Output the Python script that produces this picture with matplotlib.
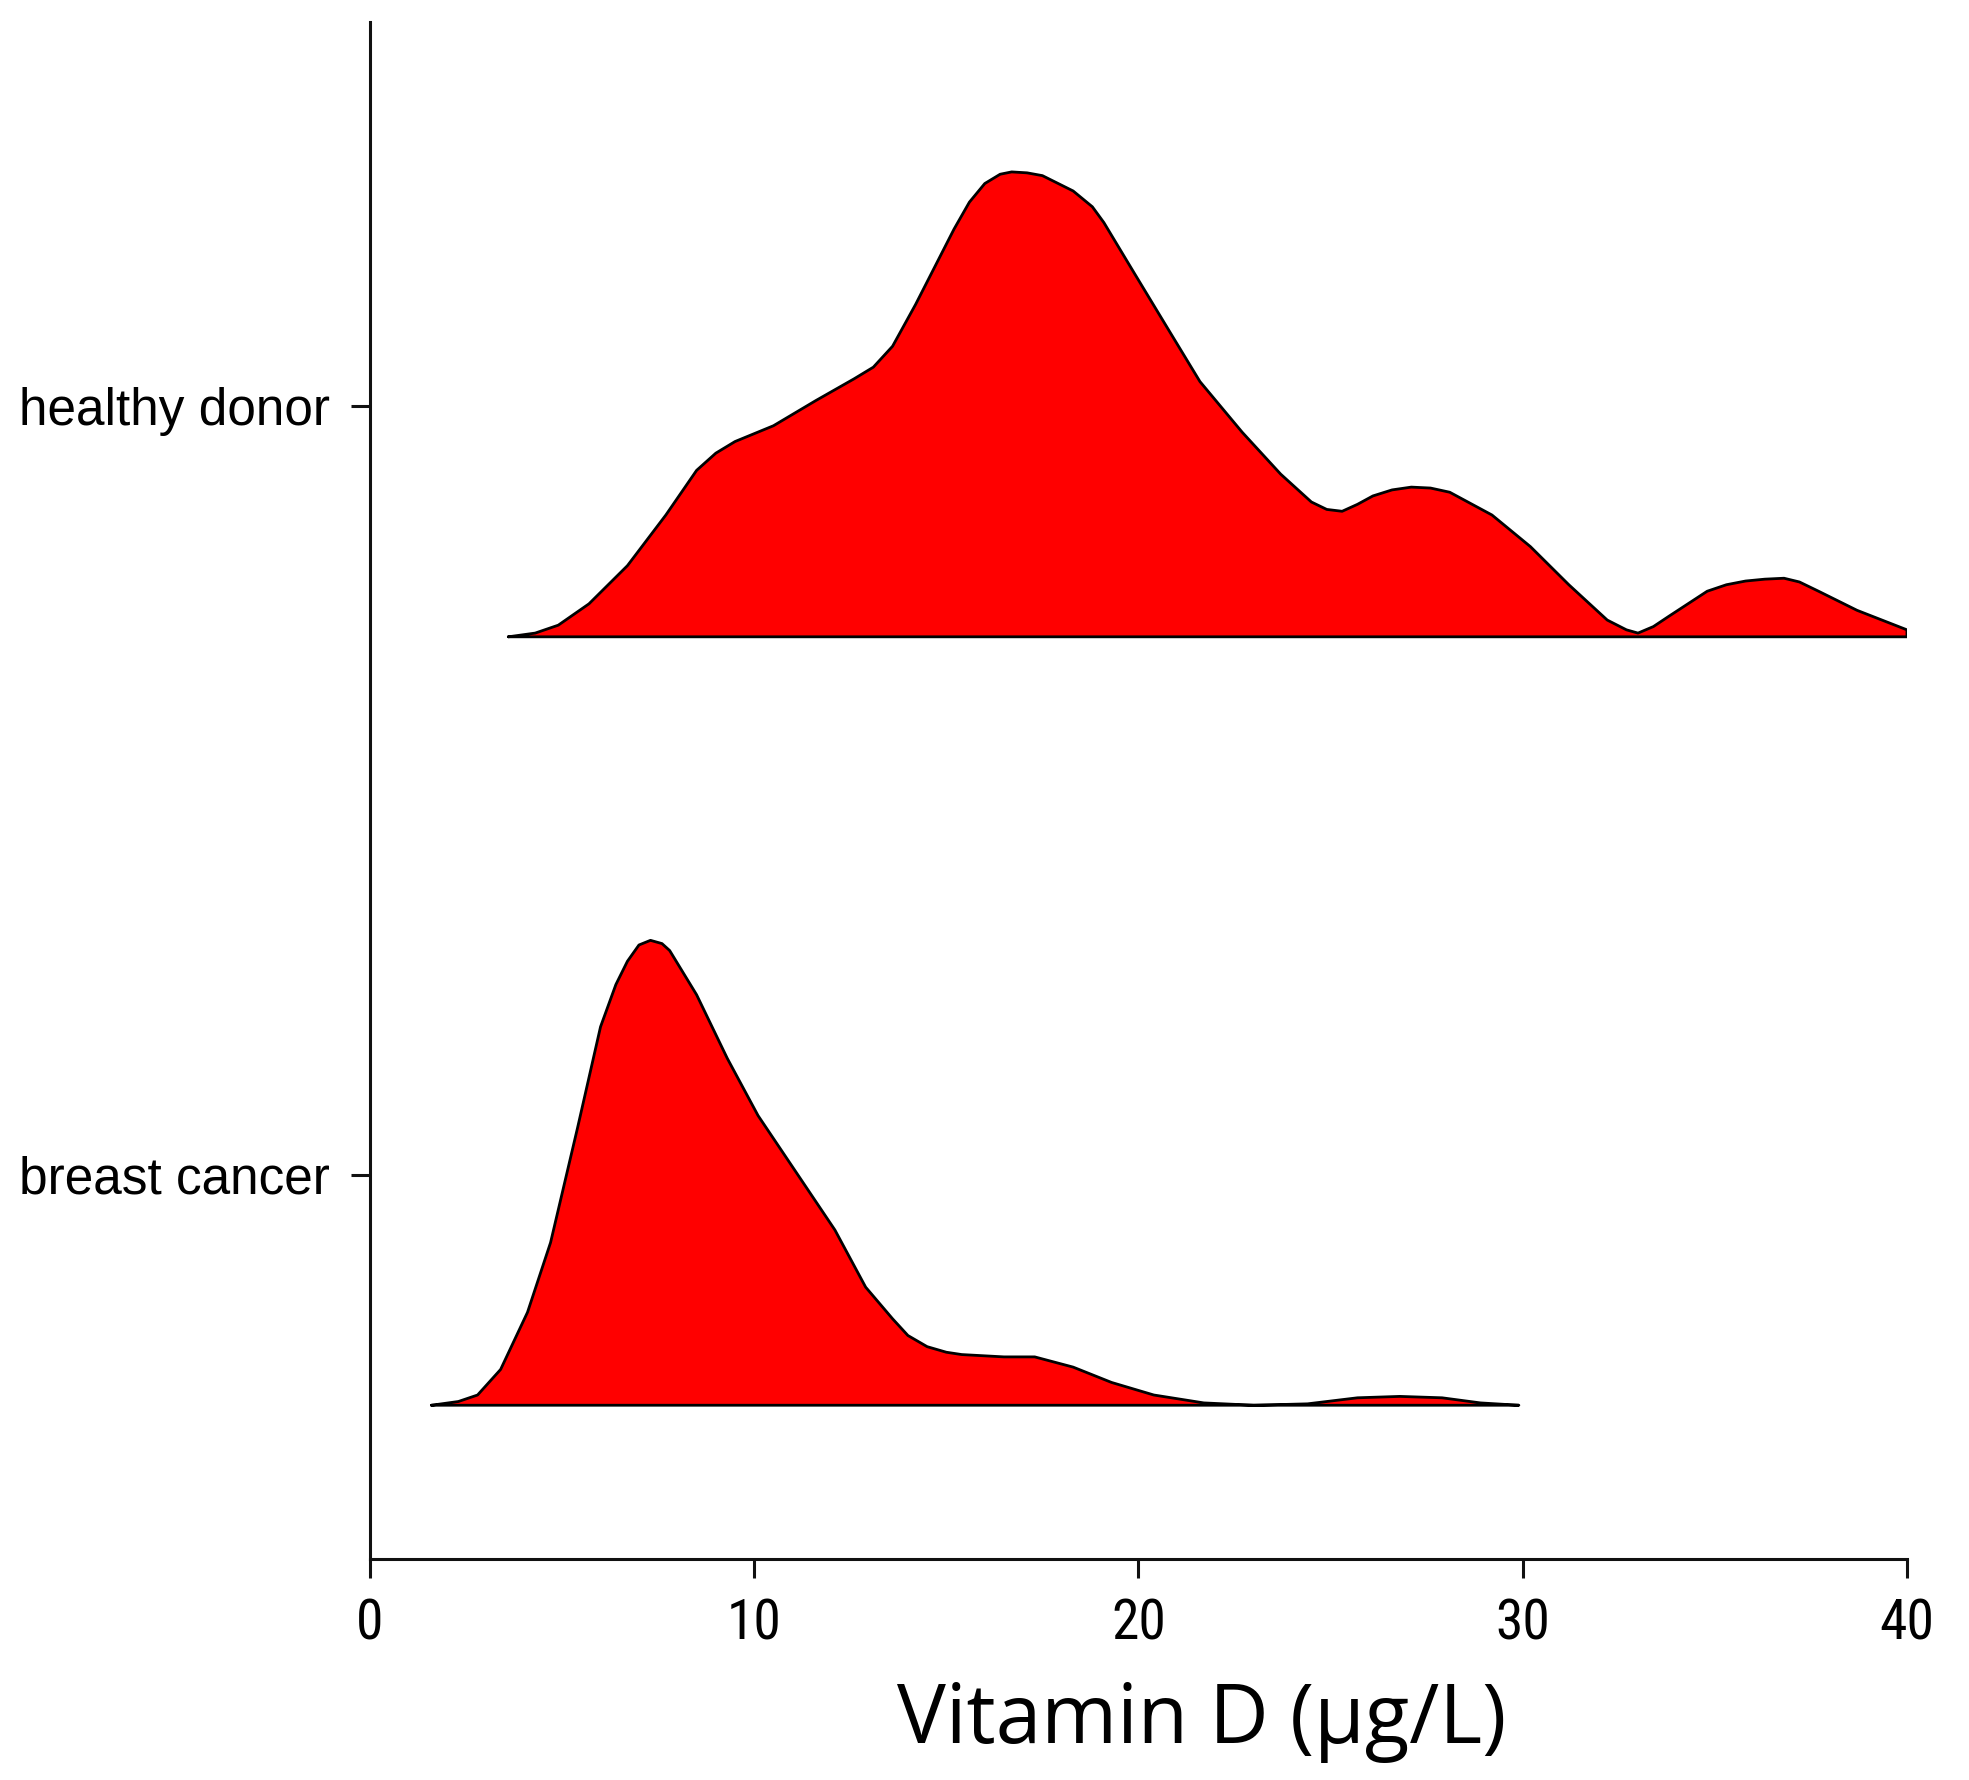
import matplotlib
matplotlib.use("Agg")
import matplotlib.pyplot as plt
import numpy as np

# ---- data ----
categories = ["breast cancer", "healthy donor"]
positions = [1, 2]

healthy_x = [3.6, 4.3, 4.9, 5.7, 6.7, 7.7, 8.5, 9.0, 9.5, 10.5, 11.6, 12.6, 13.1, 13.6, 14.2,
             15.2, 15.6, 16.0, 16.4, 16.7, 17.1, 17.5, 18.3, 18.8, 19.1, 19.9, 20.8, 21.6,
             22.7, 23.7, 24.5, 24.9, 25.3, 25.7, 26.1, 26.6, 27.1, 27.6, 28.1, 29.2, 30.2,
             31.2, 32.2, 32.7, 33.0, 33.4, 33.8, 34.8, 35.3, 35.8, 36.3, 36.8, 37.2, 37.7,
             38.7, 40.0]
healthy_h = [0.0, 0.008, 0.025, 0.071, 0.153, 0.262, 0.358, 0.395, 0.420, 0.454, 0.508, 0.555,
             0.580, 0.625, 0.715, 0.877, 0.935, 0.975, 0.995, 1.0, 0.998, 0.992, 0.959, 0.925,
             0.891, 0.781, 0.658, 0.549, 0.440, 0.350, 0.290, 0.274, 0.270, 0.285, 0.303,
             0.316, 0.322, 0.320, 0.311, 0.262, 0.194, 0.112, 0.036, 0.015, 0.008, 0.022,
             0.044, 0.098, 0.112, 0.120, 0.124, 0.126, 0.118, 0.098, 0.057, 0.015]

cancer_x = [1.6, 2.3, 2.8, 3.4, 4.1, 4.7, 5.4, 6.0, 6.4, 6.7, 7.0, 7.3, 7.6, 7.8, 8.5, 9.3,
            10.1, 11.1, 12.1, 12.9, 13.6, 14.0, 14.5, 15.0, 15.4, 16.5, 17.3, 18.3, 19.3,
            20.4, 21.7, 23.0, 24.4, 25.7, 26.8, 27.9, 28.9, 29.9]
cancer_h = [0.0, 0.008, 0.022, 0.077, 0.2, 0.350, 0.596, 0.814, 0.905, 0.955, 0.99, 1.0,
            0.993, 0.978, 0.883, 0.746, 0.623, 0.500, 0.377, 0.254, 0.186, 0.150, 0.126,
            0.114, 0.109, 0.104, 0.104, 0.082, 0.049, 0.022, 0.005, 0.0, 0.003, 0.016, 0.019,
            0.016, 0.005, 0.0]

xticks = [0, 10, 20, 30, 40]
xlabel = "Vitamin D (µg/L)"

# ---- figure ----
fig = plt.figure(figsize=(19.69, 17.8), dpi=100)
ax = fig.add_axes([0.1879, 0.1242, 0.9685 - 0.1879, 0.9876 - 0.1242])

offset = 0.3
scale = 0.605
series = [(cancer_x, cancer_h), (healthy_x, healthy_h)]
for pos, (xs, hs) in zip(positions, series):
    xs = np.asarray(xs)
    base = pos - offset
    ys = base + scale * np.asarray(hs)
    ax.fill_between(xs, base, ys, facecolor="#FF0000", edgecolor="none", zorder=2)
    px = np.concatenate([xs, xs[::-1][:1], xs[:1]])
    py = np.concatenate([ys, [base, base]])
    ax.plot(px, py, color="black", lw=2.0, zorder=3, solid_joinstyle="round",
            solid_capstyle="round")

ax.set_xlim(0, 40)
ax.set_ylim(0.5, 2.5)
ax.set_yticks(positions)
ax.set_yticklabels(categories, fontsize=37, family=["Liberation Sans", "DejaVu Sans"])
ax.set_xticks(xticks)
ax.set_xticklabels([str(t) for t in xticks], fontsize=40,
                   family=["Liberation Sans Narrow", "Roboto Condensed", "Liberation Sans"])

for s in ["top", "right"]:
    ax.spines[s].set_visible(False)
for s in ["left", "bottom"]:
    ax.spines[s].set_linewidth(2.2)
    ax.spines[s].set_color("#111111")

ax.tick_params(axis="y", length=14, width=2.2, pad=15, color="#111111")
ax.tick_params(axis="x", length=14, width=2.2, pad=14, color="#111111")

fig.text(1202 / 1969, 1 - 1722 / 1780, xlabel, fontsize=59, ha="center", va="center",
         family=["Open Sans", "DejaVu Sans"])

fig.savefig("out.png", dpi=100, facecolor="white")
